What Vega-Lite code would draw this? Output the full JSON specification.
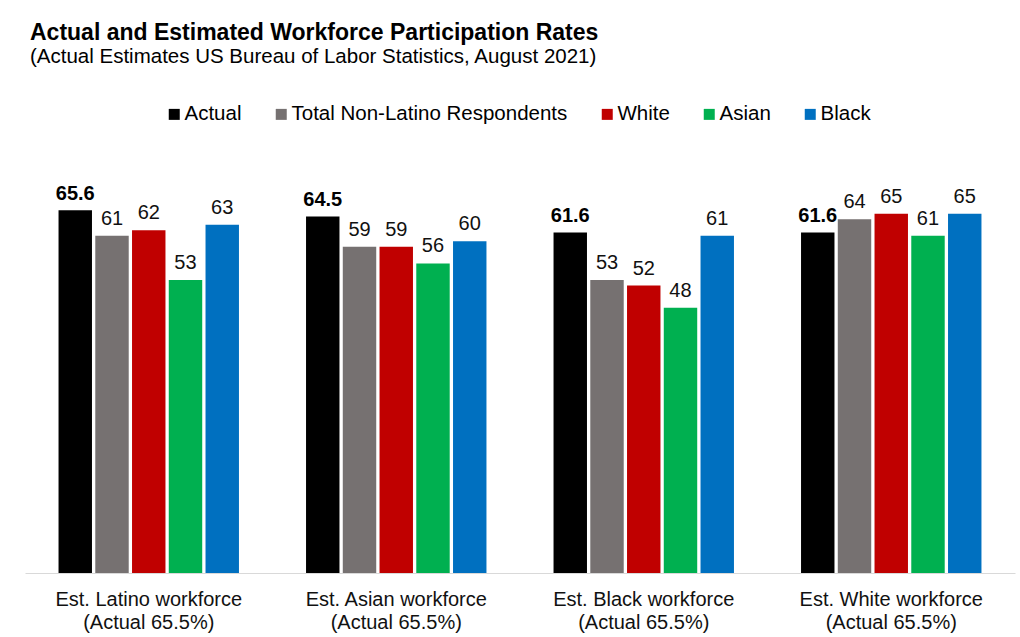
{
  "$schema": "https://vega.github.io/schema/vega-lite/v6.json",
  "autosize": "none",
  "width": 990,
  "height": 387,
  "padding": {"left": 25, "top": 186, "right": 5, "bottom": 64},
  "background": "white",
  "title": {
    "text": "Actual and Estimated Workforce Participation Rates",
    "subtitle": "(Actual Estimates US Bureau of Labor Statistics, August 2021)",
    "anchor": "start",
    "frame": "group",
    "dx": 5,
    "dy": -7,
    "offset": 30,
    "font": "Liberation Sans",
    "fontSize": 23,
    "fontWeight": "bold",
    "color": "#000000",
    "subtitleFont": "Liberation Sans",
    "subtitleFontSize": 20.5,
    "subtitleColor": "#000000",
    "subtitlePadding": 2
  },
  "data": {
    "values": [
      {"group": "Est. Latino workforce|(Actual 65.5%)", "series": "Actual", "value": 65.6},
      {"group": "Est. Latino workforce|(Actual 65.5%)", "series": "Total Non-Latino Respondents", "value": 61},
      {"group": "Est. Latino workforce|(Actual 65.5%)", "series": "White", "value": 62},
      {"group": "Est. Latino workforce|(Actual 65.5%)", "series": "Asian", "value": 53},
      {"group": "Est. Latino workforce|(Actual 65.5%)", "series": "Black", "value": 63},
      {"group": "Est. Asian workforce|(Actual 65.5%)", "series": "Actual", "value": 64.5},
      {"group": "Est. Asian workforce|(Actual 65.5%)", "series": "Total Non-Latino Respondents", "value": 59},
      {"group": "Est. Asian workforce|(Actual 65.5%)", "series": "White", "value": 59},
      {"group": "Est. Asian workforce|(Actual 65.5%)", "series": "Asian", "value": 56},
      {"group": "Est. Asian workforce|(Actual 65.5%)", "series": "Black", "value": 60},
      {"group": "Est. Black workforce|(Actual 65.5%)", "series": "Actual", "value": 61.6},
      {"group": "Est. Black workforce|(Actual 65.5%)", "series": "Total Non-Latino Respondents", "value": 53},
      {"group": "Est. Black workforce|(Actual 65.5%)", "series": "White", "value": 52},
      {"group": "Est. Black workforce|(Actual 65.5%)", "series": "Asian", "value": 48},
      {"group": "Est. Black workforce|(Actual 65.5%)", "series": "Black", "value": 61},
      {"group": "Est. White workforce|(Actual 65.5%)", "series": "Actual", "value": 61.6},
      {"group": "Est. White workforce|(Actual 65.5%)", "series": "Total Non-Latino Respondents", "value": 64},
      {"group": "Est. White workforce|(Actual 65.5%)", "series": "White", "value": 65},
      {"group": "Est. White workforce|(Actual 65.5%)", "series": "Asian", "value": 61},
      {"group": "Est. White workforce|(Actual 65.5%)", "series": "Black", "value": 65}
    ]
  },
  "encoding": {
    "x": {
      "field": "group",
      "type": "nominal",
      "sort": ["Est. Latino workforce|(Actual 65.5%)", "Est. Asian workforce|(Actual 65.5%)", "Est. Black workforce|(Actual 65.5%)", "Est. White workforce|(Actual 65.5%)"],
      "scale": {"paddingInner": 0.271, "paddingOuter": 0.1355},
      "axis": {
        "title": null,
        "labelAngle": 0,
        "labelExpr": "split(datum.value, '|')",
        "labelFont": "Liberation Sans",
        "labelFontSize": 20,
        "labelLineHeight": 23,
        "labelColor": "#111111",
        "labelPadding": 16,
        "labelLimit": 400,
        "ticks": false,
        "domain": true,
        "domainColor": "#d9d9d9",
        "domainWidth": 1,
        "grid": false
      }
    },
    "xOffset": {
      "field": "series",
      "type": "nominal",
      "sort": ["Actual", "Total Non-Latino Respondents", "White", "Asian", "Black"],
      "scale": {"paddingInner": 0.09, "paddingOuter": 0}
    },
    "y": {
      "field": "value",
      "type": "quantitative",
      "scale": {"domain": [0, 70], "nice": false, "zero": true},
      "axis": null
    }
  },
  "layer": [
    {
      "mark": {"type": "bar"},
      "encoding": {
        "color": {
          "field": "series",
          "type": "nominal",
          "sort": ["Actual", "Total Non-Latino Respondents", "White", "Asian", "Black"],
          "scale": {
            "domain": ["Actual", "Total Non-Latino Respondents", "White", "Asian", "Black"],
            "range": ["#000000", "#767171", "#C00000", "#00B050", "#0070C0"]
          },
          "legend": {
            "title": null,
            "orient": "none",
            "legendX": 139,
            "legendY": -82,
            "direction": "horizontal",
            "symbolType": "square",
            "symbolSize": 121,
            "symbolStrokeWidth": 0,
            "labelFont": "Liberation Sans",
            "labelFontSize": 20.5,
            "labelColor": "#000000",
            "labelOffset": 0,
            "labelLimit": 400,
            "columnPadding": 29,
            "padding": 0
          }
        }
      }
    },
    {
      "transform": [{"filter": "datum.series === 'Actual'"}],
      "mark": {"type": "text", "baseline": "alphabetic", "dy": -10, "font": "Liberation Sans", "fontSize": 20, "fontWeight": "bold", "color": "#000000"},
      "encoding": {
        "text": {"field": "value", "type": "quantitative", "format": ".1f"}
      }
    },
    {
      "transform": [{"filter": "datum.series !== 'Actual'"}],
      "mark": {"type": "text", "baseline": "alphabetic", "dy": -11, "font": "Liberation Sans", "fontSize": 20, "color": "#111111"},
      "encoding": {
        "text": {"field": "value", "type": "quantitative", "format": ".0f"}
      }
    }
  ],
  "config": {
    "font": "Liberation Sans",
    "view": {"stroke": null}
  }
}
